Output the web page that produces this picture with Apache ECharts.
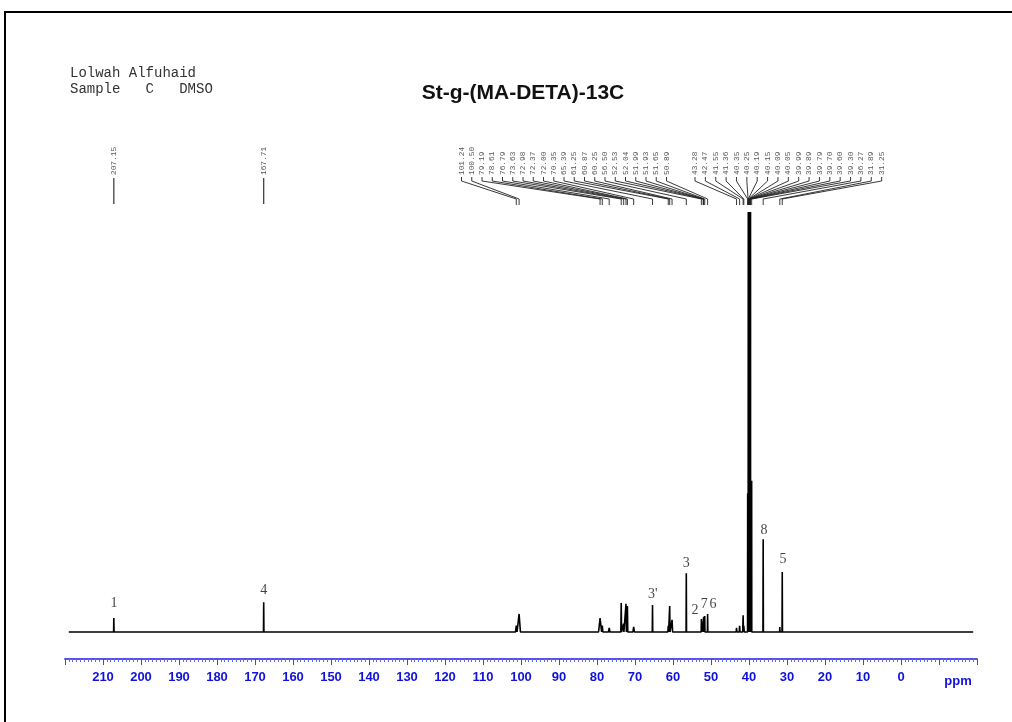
<!DOCTYPE html>
<html><head><meta charset="utf-8">
<script src="https://cdn.jsdelivr.net/npm/echarts@6/dist/echarts.min.js"></script>
<style>html,body{margin:0;padding:0;background:#fff}#c{width:1012px;height:722px}</style>
</head><body><div id="c"></div>
<script>
// ---- data ----
const peakPpm = [207.15,167.71,101.24,100.50,79.19,78.61,76.79,73.63,72.98,72.37,72.00,70.35,65.39,61.25,60.87,60.25,56.50,52.53,52.04,51.99,51.93,51.65,50.89,43.28,42.47,41.55,41.36,40.35,40.25,40.19,40.15,40.09,40.05,39.99,39.89,39.79,39.70,39.60,39.30,36.27,31.89,31.25];
const peakHeight = [3.3,7.1,1.5,4.3,3.3,1.5,1.0,6.9,2.0,6.7,6.2,1.2,6.4,1.5,6.2,2.9,14.0,3.1,2.5,3.3,3.6,3.8,4.3,1.0,1.5,4.0,1.5,33,12,100,45,100,60,100,100,100,100,100,36,22.1,1.2,14.3];
const peakWidth = [0.06,0.06,0.2,0.35,0.4,0.15,0.2,0.1,0.06,0.1,0.1,0.2,0.06,0.1,0.08,0.15,0.06,0.06,0.02,0.02,0.02,0.06,0.06,0.1,0.1,0.1,0.1,0.03,0.02,0.015,0.015,0.015,0.015,0.015,0.015,0.015,0.015,0.015,0.03,0.06,0.05,0.06];
const labelsSingle = [207.15,167.71];
const labelsLeft = [101.24,100.50,79.19,78.61,76.79,73.63,72.98,72.37,72.00,70.35,65.39,61.25,60.87,60.25,56.50,52.53,52.04,51.99,51.93,51.65,50.89];
const labelsRight = [43.28,42.47,41.55,41.36,40.35,40.25,40.19,40.15,40.09,40.05,39.99,39.89,39.79,39.70,39.60,39.30,36.27,31.89,31.25];
const annotText = ['1','4',"3'",'3','2','7','6','8','5'];
const annotPpm = [207.1,167.7,65.3,56.5,54.2,51.8,49.5,36.05,31.05];
const annotY = [6.9,10.0,9.0,16.4,5.2,6.7,6.7,24.3,17.4];
const spectrumStart = 219;
const spectrumEnd = -19;
const headerLines = ['Lolwah Alfuhaid', 'Sample   C   DMSO'];
const chartTitle = 'St-g-(MA-DETA)-13C';
const unitLabel = 'ppm';

// ---- build spectrum polyline from the peak list ----
const spec = [[spectrumStart, 0]];
peakPpm.forEach((p, i) => {
  const w = peakWidth[i];
  spec.push([p + w, 0], [p, peakHeight[i]], [p - w, 0]);
});
spec.push([spectrumEnd, 0]);

function connectorSeries(values, startX, step, single) {
  return {
    type: 'custom',
    data: values.map(v => [v, 0]),
    encode: { x: 0, y: 1 },
    clip: false,
    silent: true,
    renderItem: function (params, api) {
      const i = params.dataIndex;
      const ppm = api.value(0);
      const px = api.coord([ppm, 0])[0];
      const lx = single ? px : startX + step * i;
      const children = [{
        type: 'text', x: lx, y: 175, rotation: Math.PI / 2,
        style: { text: ppm.toFixed(2), fontSize: 7.8, fontFamily: 'Liberation Mono', fill: '#555', align: 'left', verticalAlign: 'middle' }
      }];
      if (single) {
        children.push({ type: 'line', shape: { x1: px, y1: 178, x2: px, y2: 204 }, style: { stroke: '#333', lineWidth: 1.2 } });
      } else {
        children.push({ type: 'polyline', shape: { points: [[lx, 177], [lx, 181], [px, 199], [px, 205]] }, style: { stroke: '#222', fill: null, lineWidth: 0.9 } });
      }
      return { type: 'group', children };
    }
  };
}

const chart = echarts.init(document.getElementById('c'), null, { renderer: 'canvas' });
chart.setOption({
  animation: false,
  backgroundColor: '#fff',
  grid: { left: 65, right: 35, top: 212, bottom: 63 },
  xAxis: {
    type: 'value', min: -20, max: 220, interval: 10, inverse: true,
    axisLine: { show: true, onZero: false, lineStyle: { color: '#5555ee', width: 2 } },
    axisTick: { show: true, length: 6, lineStyle: { color: '#4444ee', width: 1 } },
    minorTick: { show: true, splitNumber: 10, length: 3, lineStyle: { color: '#6666ee', width: 1 } },
    splitLine: { show: false },
    axisLabel: {
      margin: 12, color: '#1111dd', fontSize: 13, fontWeight: 'bold', fontFamily: 'Liberation Sans',
      formatter: v => (v < 0 || v > 210) ? '' : String(v)
    }
  },
  yAxis: { type: 'value', min: -6.43, max: 100, show: false },
  graphic: [
    { type: 'rect', shape: { x: 5, y: 12, width: 1030, height: 730 }, style: { fill: null, stroke: '#000', lineWidth: 2 } },
    { type: 'text', x: 70, y: 73, style: { text: headerLines[0], font: '14px "Liberation Mono"', fill: '#333', verticalAlign: 'middle' } },
    { type: 'text', x: 70, y: 89, style: { text: headerLines[1], font: '14px "Liberation Mono"', fill: '#333', verticalAlign: 'middle' } },
    { type: 'text', x: 523, y: 93, style: { text: chartTitle, font: 'bold 21px "Liberation Sans"', fill: '#111', align: 'center', verticalAlign: 'middle' } },
    { type: 'text', x: 958, y: 681, style: { text: unitLabel, font: 'bold 13px "Liberation Sans"', fill: '#1111dd', align: 'center', verticalAlign: 'middle' } }
  ],
  series: [
    {
      type: 'line', data: spec, showSymbol: false, symbol: 'none',
      lineStyle: { color: '#000', width: 1.6 }, silent: true
    },
    {
      type: 'scatter', symbolSize: 0, silent: true,
      data: annotPpm.map((p, i) => [p, annotY[i]]),
      label: {
        show: true, position: 'inside', color: '#111', fontSize: 14, fontFamily: 'Liberation Serif',
        formatter: p => annotText[p.dataIndex]
      }
    },
    connectorSeries(labelsSingle, 0, 0, true),
    connectorSeries(labelsLeft, 461.5, 10.25, false),
    connectorSeries(labelsRight, 695, 10.37, false)
  ]
});
</script></body></html>
